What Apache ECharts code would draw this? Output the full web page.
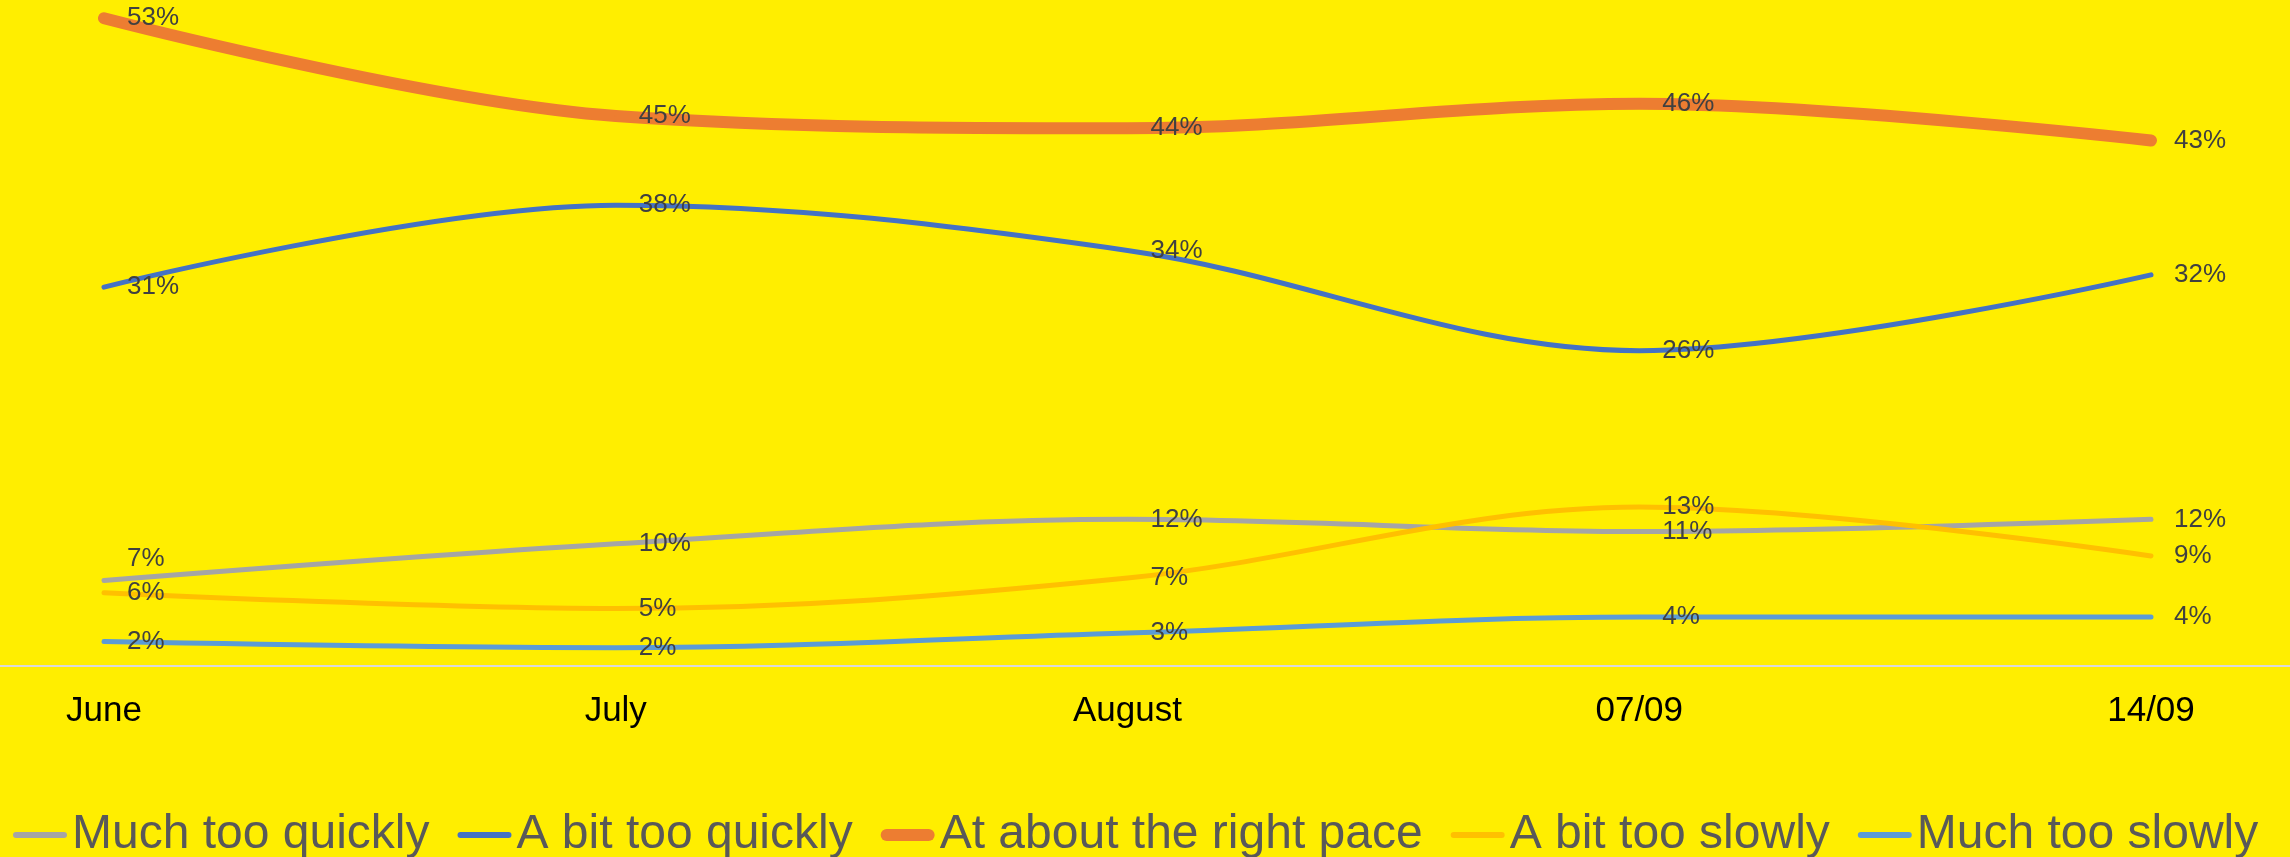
<!DOCTYPE html>
<html>
<head>
<meta charset="utf-8">
<title>Pace of change</title>
<script src="https://cdn.jsdelivr.net/npm/echarts@6/dist/echarts.min.js"></script>
<style>
  html, body { margin: 0; padding: 0; background: #FFEE00; }
  #main { width: 2290px; height: 857px; }
</style>
</head>
<body>
<div id="main"></div>
<script>
  var categories = ['June', 'July', 'August', '07/09', '14/09']
  var muchTooQuickly = [7, 10, 12, 11, 12]
  var bitTooQuickly = [31, 37.7, 34, 25.8, 32]
  var rightPace = [53, 45, 44, 46, 43]
  var bitTooSlowly = [6, 4.7, 7.2, 13, 9]
  var muchTooSlowly = [2, 1.5, 2.7, 4, 4]
  var yMax = 54

  var font = "'Liberation Sans', Arial, sans-serif"
  var thinIcon = 'path://M3,0H51A3,3,0,0,1,51,6H3A3,3,0,0,1,3,0Z'
  var thickIcon = 'path://M6,0H48A6,6,0,0,1,48,12H6A6,6,0,0,1,6,0Z'

  // one line series; shift = optional label offsets by index
  function makeSeries(name, values, color, width, shift) {
    return {
      name: name,
      type: 'line',
      smooth: 0.35,
      data: values.map(function (v, i) {
        if (shift && shift[i]) return { value: v, label: { offset: shift[i] } }
        return v
      }),
      symbol: 'circle',
      symbolSize: 2,
      itemStyle: { color: color },
      lineStyle: { color: color, width: width, cap: 'round' },
      label: {
        show: true,
        position: 'right',
        distance: 22,
        formatter: function (p) { return Math.round(p.value) + '%' },
        color: '#404040',
        fontSize: 26,
        fontFamily: font
      },
      emphasis: { disabled: true }
    }
  }

  var chart = echarts.init(document.getElementById('main'))
  var option = {
    backgroundColor: '#FFEE00',
    animation: false,
    grid: [
      { left: 104, right: 139, top: 6, bottom: 191 },
      { left: 0, right: 0, top: 6, bottom: 191 }  // only for the full-width base line
    ],
    legend: {
      top: 811,
      left: 13,
      padding: 0,
      itemWidth: 54,
      itemHeight: 16,
      itemGap: 28,
      textStyle: { color: '#595959', fontSize: 48, fontFamily: font },
      data: [
        { name: 'Much too quickly', icon: thinIcon },
        { name: 'A bit too quickly', icon: thinIcon },
        { name: 'At about the right pace', icon: thickIcon },
        { name: 'A bit too slowly', icon: thinIcon },
        { name: 'Much too slowly', icon: thinIcon }
      ]
    },
    xAxis: [
      {
        type: 'category',
        data: categories,
        boundaryGap: false,
        axisLine: { show: false },
        axisTick: { show: false },
        axisLabel: { color: '#000', fontSize: 35, fontFamily: font, margin: 28 },
        splitLine: { show: false }
      },
      {
        type: 'value',
        gridIndex: 1,
        min: 0,
        max: 1,
        axisLine: { show: true, lineStyle: { color: '#D9D9D9', width: 2 } },
        axisTick: { show: false },
        axisLabel: { show: false },
        splitLine: { show: false }
      }
    ],
    yAxis: [
      { type: 'value', min: 0, max: yMax, show: false, splitLine: { show: false } },
      { type: 'value', gridIndex: 1, min: 0, max: 1, show: false }
    ],
    series: [
      makeSeries('Much too quickly', muchTooQuickly, '#A5A5A5', 5, { 0: [0, -22] }),
      makeSeries('A bit too quickly', bitTooQuickly, '#4472C4', 5),
      makeSeries('At about the right pace', rightPace, '#ED7D31', 12),
      makeSeries('A bit too slowly', bitTooSlowly, '#FFC000', 5),
      makeSeries('Much too slowly', muchTooSlowly, '#5B9BD5', 5)
    ]
  }
  chart.setOption(option)
</script>
</body>
</html>
